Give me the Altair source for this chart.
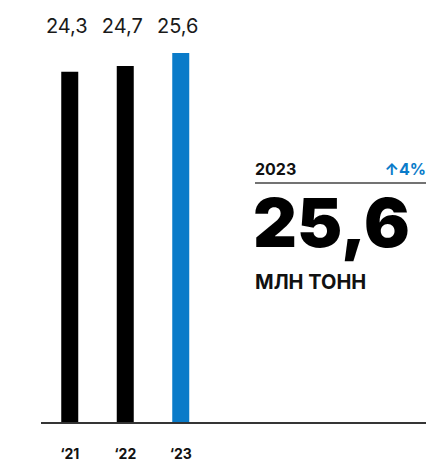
import altair as alt
import pandas as pd

# ---- data ----
years = ["‘21", "‘22", "‘23"]
values = [24.3, 24.7, 25.6]
bar_colors = ["#000000", "#000000", "#0a7bc9"]
headline_year = "2023"
unit_label = "МЛН ТОНН"

def fmt(v):
    return f"{v:.1f}".replace(".", ",")

change_pct = round((values[-1] / values[-2] - 1) * 100)
change_label = f"↑{change_pct}%"
headline_value = fmt(values[-1])

df = pd.DataFrame({
    "year": years,
    "value": values,
    "label": [fmt(v) for v in values],
    "color": bar_colors,
})

W, H = 385, 415
FONT = "Inter"
BLUE = "#0a7bc9"

x = alt.X("year:N", sort=years,
          scale=alt.Scale(domain=years, range=[1, 167.5], paddingInner=0, paddingOuter=0),
          axis=alt.Axis(title=None, domain=False, ticks=False, labelAngle=0,
                        labelFontSize=14, labelFontWeight="bold", labelColor="#111",
                        labelFont=FONT, labelBaseline="alphabetic", labelPadding=35))
y = alt.Y("value:Q", scale=alt.Scale(domain=[0, 28.71], nice=False, zero=True), axis=None)

base = alt.Chart(df)

bars = base.mark_bar(size=17).encode(
    x=x, y=y, color=alt.Color("color:N", scale=None)
)

value_labels = base.mark_text(
    font=FONT, fontSize=20, color="#1a1a1a", baseline="alphabetic", dx=-3
).encode(x=x, y=alt.value(25), text="label:N")

baseline = base.mark_rule(color="#333333", strokeWidth=1.5).encode(
    x=alt.value(0), x2=alt.value(W), y=alt.value(H)
)

panel = pd.DataFrame({"t": [headline_year]})
pb = alt.Chart(panel)

year_txt = pb.mark_text(font=FONT, fontSize=16, fontWeight="bold", color="#111",
                        align="left", baseline="alphabetic").encode(
    x=alt.value(214), y=alt.value(167), text=alt.value(headline_year))
change_txt = pb.mark_text(font=FONT, fontSize=16, fontWeight="bold", color=BLUE,
                          align="right", baseline="alphabetic").encode(
    x=alt.value(W), y=alt.value(167), text=alt.value(change_label))
sep = pb.mark_rule(color="#444444", strokeWidth=1.5).encode(
    x=alt.value(214), x2=alt.value(W), y=alt.value(175))
big_txt = pb.mark_text(font=FONT, fontSize=68, fontWeight=900, color="#000",
                       align="left", baseline="alphabetic").encode(
    x=alt.value(212), y=alt.value(239), text=alt.value(headline_value))
unit_txt = pb.mark_text(font=FONT, fontSize=20, fontWeight="bold", color="#111",
                        align="left", baseline="alphabetic").encode(
    x=alt.value(214), y=alt.value(281), text=alt.value(unit_label))

chart = alt.layer(bars, value_labels, baseline, year_txt, change_txt, sep, big_txt, unit_txt).properties(
    width=W, height=H,
    background="white",
    autosize=alt.AutoSizeParams(type="none"),
    padding={"left": 33, "top": 0, "right": 0, "bottom": 40},
).configure_view(stroke=None)

chart.save("out.html", embed_options={"renderer": "svg", "actions": False})
